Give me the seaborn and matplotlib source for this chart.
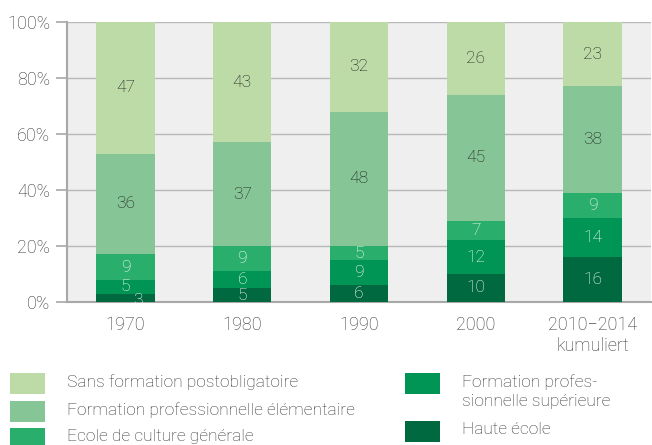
import matplotlib.pyplot as plt
import numpy as np
import pandas as pd
import seaborn as sns
from matplotlib.patches import Rectangle

years = ["1970", "1980", "1990", "2000", "2010\u22122014\nkumuliert"]
categories = [
    "Haute école",
    "Formation profes-\nsionnelle supérieure",
    "Ecole de culture générale",
    "Formation professionnelle élémentaire",
    "Sans formation postobligatoire",
]
haute_ecole = [3, 5, 6, 10, 16]
prof_sup = [5, 6, 9, 12, 14]
culture_gen = [9, 9, 5, 7, 9]
prof_elem = [36, 37, 48, 45, 38]
sans_formation = [47, 43, 32, 26, 23]

colors = ["#006940", "#009455", "#2aae6b", "#86c595", "#bddba7"]
text_colors = ["white", "white", "white", "#1e1e1e", "#1e1e1e"]

series = [haute_ecole, prof_sup, culture_gen, prof_elem, sans_formation]
values = np.array(series)
cum = values.cumsum(axis=0)

W, H = 652, 445

sns.set_theme(style="white")
plt.rcParams["font.family"] = ["Roboto", "DejaVu Sans"]
plt.rcParams["font.weight"] = "light"

fig = plt.figure(figsize=(W / 100, H / 100), dpi=100)
ax = fig.add_axes([67 / W, 1 - 302 / H, 584 / W, 280 / H])
ax.set_facecolor("#efefef")

# draw cumulative totals from top layer down so lower layers overlay
for i in reversed(range(len(categories))):
    df = pd.DataFrame({"year": years, "value": cum[i]})
    sns.barplot(data=df, x="year", y="value", color=colors[i], width=0.5,
                saturation=1, ax=ax, zorder=3, linewidth=0)

# value labels
for i in range(len(categories)):
    for j in range(len(years)):
        v = values[i, j]
        y = cum[i, j] - v / 2
        x = j
        if v <= 3:
            x += 0.11
            y -= 0.8
        ax.text(x, y, str(v), ha="center", va="center", fontsize=12.5,
                color=text_colors[i], zorder=5, fontweight="light")

ax.set_xlim(-0.5, 4.5)
ax.set_ylim(0, 100)
ax.set_yticks(np.arange(0, 101, 20))
ax.set_yticklabels([f"{t}%" for t in range(0, 101, 20)])
ax.yaxis.grid(True, color="#b8b8b8", linewidth=1.0, zorder=0)
ax.set_axisbelow(True)
ax.set_xlabel("")
ax.set_ylabel("")
for side in ["top", "right"]:
    ax.spines[side].set_visible(False)
for side in ["left", "bottom"]:
    ax.spines[side].set_color("#a8a8a8")
    ax.spines[side].set_linewidth(1.5)
ax.tick_params(axis="y", length=8, width=1.2, color="#a8a8a8", labelsize=13,
               labelcolor="#333333", pad=4, left=True)
ax.tick_params(axis="x", length=0, labelsize=13, labelcolor="#333333", pad=10)

# legend drawn by hand to follow the two-column layout
legend_items = [
    (4, 10, 383), (3, 10, 411), (2, 10, 438),
    (1, 405, 383), (0, 405, 431),
]
for idx, px, py in legend_items:
    fig.patches.append(Rectangle((px / W, 1 - (py + 10.5) / H), 35 / W, 21 / H,
                                 facecolor=colors[idx], edgecolor="none",
                                 transform=fig.transFigure, figure=fig))
    label = categories[idx]
    top = py - 9
    fig.text((px + 57) / W, 1 - top / H, label, ha="left", va="top",
             fontsize=12.5, color="#333333", linespacing=1.35, fontweight="light")

fig.savefig("out.png", dpi=100)
